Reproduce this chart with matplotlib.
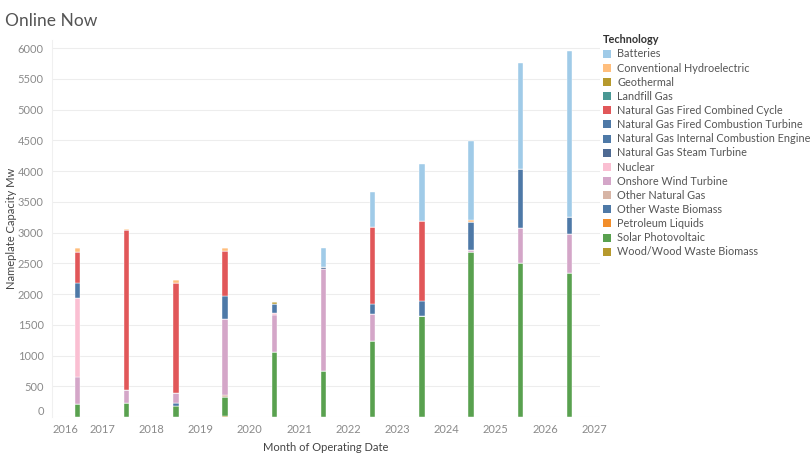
import matplotlib
matplotlib.use("Agg")
import matplotlib.pyplot as plt
from matplotlib.patches import Patch
import numpy as np

plt.rcParams['font.family'] = ['Lato', 'DejaVu Sans']

years = [2016, 2017, 2018, 2019, 2020, 2021, 2022, 2023, 2024, 2025, 2026]
month = 7  # bars sit at July of each year

# Legend order (top of stack first)
technologies = [
    "Batteries",
    "Conventional Hydroelectric",
    "Geothermal",
    "Landfill Gas",
    "Natural Gas Fired Combined Cycle",
    "Natural Gas Fired Combustion Turbine",
    "Natural Gas Internal Combustion Engine",
    "Natural Gas Steam Turbine",
    "Nuclear",
    "Onshore Wind Turbine",
    "Other Natural Gas",
    "Other Waste Biomass",
    "Petroleum Liquids",
    "Solar Photovoltaic",
    "Wood/Wood Waste Biomass",
]

colors = [
    "#a0cbe8", "#ffbe7d", "#b6992d", "#499894", "#e15759",
    "#4e79a7", "#4e79a7", "#4e6a93", "#fabfd2", "#d4a6c8",
    "#d7b5a6", "#4e79a7", "#f28e2b", "#59a14f", "#b6992d",
]

batteries       = [0, 0, 0, 0, 0, 315, 560, 920, 1285, 1730, 2700]
conv_hydro      = [55, 25, 45, 40, 0, 0, 0, 0, 40, 0, 0]
geothermal      = [0, 0, 0, 0, 28, 0, 0, 0, 0, 0, 0]
landfill_gas    = [0, 0, 0, 0, 0, 0, 0, 0, 0, 0, 0]
ng_cc           = [515, 2600, 1800, 745, 0, 0, 1260, 1300, 0, 0, 0]
ng_ct           = [245, 0, 0, 365, 151, 0, 160, 250, 445, 965, 285]
ng_ice          = [0, 0, 0, 0, 0, 0, 0, 0, 0, 0, 0]
ng_steam        = [0, 0, 0, 0, 0, 30, 0, 0, 0, 0, 0]
nuclear         = [1285, 0, 0, 0, 28, 0, 0, 0, 0, 0, 0]
onshore_wind    = [435, 205, 163, 1245, 596, 1660, 435, 0, 40, 560, 625]
other_ng        = [0, 0, 0, 20, 0, 0, 0, 0, 0, 0, 0]
other_biomass   = [0, 0, 38, 0, 0, 0, 0, 0, 0, 0, 0]
petroleum       = [0, 0, 0, 0, 0, 0, 0, 0, 0, 0, 0]
solar           = [210, 230, 184, 315, 1060, 750, 1240, 1640, 2680, 2510, 2350]
wood            = [0, 0, 0, 15, 0, 0, 0, 0, 0, 0, 0]

series = [batteries, conv_hydro, geothermal, landfill_gas, ng_cc, ng_ct, ng_ice,
          ng_steam, nuclear, onshore_wind, other_ng, other_biomass, petroleum,
          solar, wood]

yticks = [0, 500, 1000, 1500, 2000, 2500, 3000, 3500, 4000, 4500, 5000, 5500, 6000]
xtick_years = [2016, 2017, 2018, 2019, 2020, 2021, 2022, 2023, 2024, 2025, 2026, 2027]

fig = plt.figure(figsize=(8.12, 4.58), dpi=100)
ax = fig.add_axes([0.064, 0.0895, 0.675, 0.823])

x = np.array(years) + (month - 1) / 12.0
bottom = np.zeros(len(years))
for name, col, vals in reversed(list(zip(technologies, colors, series))):
    v = np.array(vals, dtype=float)
    ax.bar(x, v, bottom=bottom, width=0.11, color=col, edgecolor='white',
           linewidth=0.3, zorder=3)
    bottom += v

ax.set_xlim(2015.98, 2027.12)
ax.set_ylim(0, 6130)
ax.set_yticks(yticks)
ylabels = ax.set_yticklabels([str(t) for t in yticks])
ylabels[0].set_verticalalignment('bottom')
ax.set_xticks(xtick_years)
labels = ax.set_xticklabels([str(t) for t in xtick_years])
labels[0].set_horizontalalignment('left')

ax.grid(axis='y', color='#ededed', linewidth=0.8, zorder=0)
ax.grid(axis='x', visible=False)
for s in ['top', 'right', 'bottom']:
    ax.spines[s].set_visible(False)
ax.spines['left'].set_color('#f0f0f0')
ax.tick_params(axis='both', length=0, labelsize=8, labelcolor='#8a8a8a', pad=6)
ax.tick_params(axis='x', pad=5)

ax.set_ylabel("Nameplate Capacity Mw", fontsize=8, color='#444444')
ax.yaxis.set_label_coords(-0.064, 0.5)
ax.set_xlabel("Month of Operating Date", fontsize=8, color='#444444', labelpad=5)

fig.text(0.006, 0.955, "Online Now", fontsize=12.5, color='#555555', ha='left', va='center')

handles = [Patch(facecolor=c, edgecolor='none') for c in colors]
leg = fig.legend(handles, technologies, loc='upper left', bbox_to_anchor=(0.742, 0.925),
                 frameon=False, fontsize=7.8, handlelength=0.75, handleheight=0.75,
                 handletextpad=0.6, labelspacing=0.29, borderaxespad=0, borderpad=0,
                 title="Technology", alignment='left')
leg.get_title().set_fontsize(7.8)
leg.get_title().set_color('#333333')
leg.get_title().set_fontweight('bold')
for t in leg.get_texts():
    t.set_color('#555555')

fig.savefig("out.png", dpi=100)
